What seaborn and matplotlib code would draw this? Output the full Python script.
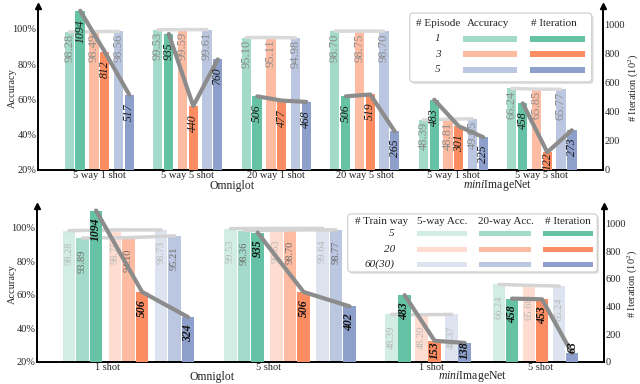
import numpy as np
import pandas as pd
import seaborn as sns
import matplotlib.pyplot as plt
from matplotlib.colors import to_rgb
from matplotlib.patches import FancyBboxPatch, Rectangle

sns.set_style('white')
plt.rcParams['font.family'] = ['Liberation Serif', 'DejaVu Serif']
plt.rcParams['mathtext.fontset'] = 'custom'
plt.rcParams['mathtext.rm'] = 'Liberation Serif'
plt.rcParams['mathtext.it'] = 'Liberation Serif:italic'

# ===================== data: top panel (number of episodes) =====================
top_groups = ['5 way 1 shot', '5 way 5 shot', '20 way 1 shot', '20 way 5 shot',
              '5 way 1 shot', '5 way 5 shot']
episodes = ['1', '3', '5']
top_acc_1 = [98.28, 99.53, 95.10, 98.70, 48.39, 66.24]
top_acc_3 = [98.49, 99.59, 95.11, 98.75, 48.81, 65.85]
top_acc_5 = [98.56, 99.61, 94.98, 98.70, 49.05, 65.77]
top_iter_1 = [1094, 935, 506, 506, 483, 458]
top_iter_3 = [812, 440, 477, 519, 301, 122]
top_iter_5 = [517, 760, 468, 265, 225, 273]

# ===================== data: bottom panel (number of train ways) ================
bot_groups = ['1 shot', '5 shot', '1 shot', '5 shot']
train_ways = ['5', '20', '60(30)']
bot_acc5_tw5 = [98.28, 99.53, 48.39, 66.24]
bot_acc5_tw20 = [98.75, 99.63, 48.20, 65.68]
bot_acc5_tw60 = [98.73, 99.64, 48.37, 65.24]
bot_acc20_tw5 = [93.89, 98.36, np.nan, np.nan]
bot_acc20_tw20 = [94.10, 98.70, np.nan, np.nan]
bot_acc20_tw60 = [95.21, 98.77, np.nan, np.nan]
bot_iter_tw5 = [1094, 935, 483, 458]
bot_iter_tw20 = [506, 506, 153, 453]
bot_iter_tw60 = [324, 402, 138, 63]

# ===================== layout =====================
base = ['#66c2a5', '#fc8d62', '#8da0cb']


def tint(c, a):
    r = np.array(to_rgb(c))
    return tuple(1 - a * (1 - r))


TOP_PAIR, TOP_HALF, TOP_BW = 0.277, 0.062, 0.107
BOT_CENTERS = [0.0, 1.0, 1.855, 2.52]
BOT_TICKS = [-0.133, 0.867, 1.876, 2.548]
BOT_OMNI_PITCH, BOT_SLOT = 0.285, 0.0836
BOT_MINI_PITCH, BOT_MINI_SLOT = 0.186, 0.0805
BOT_BW = 0.0774

fig = plt.figure(figsize=(6.4, 3.84), dpi=100)
ax_t = fig.add_axes([0.0594, 0.5573, 0.8828, 0.4271])
ax_b = fig.add_axes([0.0578, 0.0573, 0.886, 0.4063])
ax_t2 = ax_t.twinx()
ax_b2 = ax_b.twinx()


def bars(ax, df, palette, bw):
    nw = np.diff(np.unique(df['x'])).min()
    sns.barplot(data=df, x='x', y='y', hue='s', palette=palette, native_scale=True,
                dodge=False, width=bw / nw, errorbar=None, saturation=1,
                linewidth=0, legend=False, ax=ax)


def joins(ax, df, color, lw, z):
    sns.lineplot(data=df, x='x', y='y', units='g', estimator=None, color=color,
                 lw=lw, legend=False, ax=ax, zorder=z)


def labels(ax, df, fmt, size, color, off, floor=0, style='normal', weight='normal'):
    for r in df.itertuples():
        ax.annotate(fmt(r.y), (r.x, max(r.y, floor)), xytext=(0, -off),
                    textcoords='offset points', rotation=90, ha='center', va='top',
                    fontsize=size, color=color, style=style, weight=weight, zorder=6)


# ---------- top panel ----------
top_acc = [top_acc_1, top_acc_3, top_acc_5]
top_iter = [top_iter_1, top_iter_3, top_iter_5]
rows_a, rows_i = [], []
for e, ep in enumerate(episodes):
    for g in range(len(top_groups)):
        rows_a.append(dict(x=g + (e - 1) * TOP_PAIR - TOP_HALF, y=top_acc[e][g], s=ep, g=g))
        rows_i.append(dict(x=g + (e - 1) * TOP_PAIR + TOP_HALF, y=top_iter[e][g], s=ep, g=g))
df_ta = pd.DataFrame(rows_a)
df_ti = pd.DataFrame(rows_i)

bars(ax_t, df_ta, {ep: tint(c, 0.6) for ep, c in zip(episodes, base)}, TOP_BW)
joins(ax_t, df_ta, '#d9d9d9', 2.5, 3)
labels(ax_t, df_ta, lambda v: f'{v:.2f}', 9, '#8c8c8c', 1.5)
bars(ax_t2, df_ti, dict(zip(episodes, base)), TOP_BW)
joins(ax_t2, df_ti, '#8c8c8c', 3, 4)
labels(ax_t2, df_ti, lambda v: f'{int(v)}', 8.5, '#1a1a1a', 6, floor=175, style='italic')

# ---------- bottom panel ----------
acc5 = [bot_acc5_tw5, bot_acc5_tw20, bot_acc5_tw60]
acc20 = [bot_acc20_tw5, bot_acc20_tw20, bot_acc20_tw60]
iters = [bot_iter_tw5, bot_iter_tw20, bot_iter_tw60]
rows_a, rows_i = [], []
for t, tw in enumerate(train_ways):
    for g, c in enumerate(BOT_CENTERS):
        if np.isnan(acc20[t][g]):
            p0 = c + (t - 1) * BOT_MINI_PITCH - 0.5 * BOT_MINI_SLOT
            rows_a.append(dict(x=p0, y=acc5[t][g], s='5w' + tw, g=g * 2))
            rows_i.append(dict(x=p0 + BOT_MINI_SLOT, y=iters[t][g], s=tw, g=g))
        else:
            p0 = c + (t - 1) * BOT_OMNI_PITCH - BOT_SLOT
            rows_a.append(dict(x=p0, y=acc5[t][g], s='5w' + tw, g=g * 2))
            rows_a.append(dict(x=p0 + BOT_SLOT, y=acc20[t][g], s='20w' + tw, g=g * 2 + 1))
            rows_i.append(dict(x=p0 + 2 * BOT_SLOT, y=iters[t][g], s=tw, g=g))
df_ba = pd.DataFrame(rows_a)
df_bi = pd.DataFrame(rows_i)

pal_b = {}
for tw, c in zip(train_ways, base):
    pal_b['5w' + tw] = tint(c, 0.3)
    pal_b['20w' + tw] = tint(c, 0.6)
bars(ax_b, df_ba, pal_b, BOT_BW)
joins(ax_b, df_ba, '#d4d4d4', 2.5, 3)
five = df_ba[df_ba['s'].str.startswith('5w')]
twenty = df_ba[df_ba['s'].str.startswith('20w')]
labels(ax_b, five, lambda v: f'{v:.2f}', 7.5, '#b8b8b8', 8)
labels(ax_b, twenty, lambda v: f'{v:.2f}', 7.5, '#6a6a6a', 8)
bars(ax_b2, df_bi, dict(zip(train_ways, base)), BOT_BW)
joins(ax_b2, df_bi, '#8c8c8c', 3, 4)
labels(ax_b2, df_bi, lambda v: f'{int(v)}', 8.5, '#111111', 5, floor=200,
       style='italic', weight='bold')


# ---------- axes styling ----------
def style(ax, ax2, ticks, ticklabels, xlim, lab_l, lab_r):
    for a in (ax, ax2):
        a.set_xlim(*xlim)
        a.set_xlabel('')
        a.tick_params(length=0, labelsize=7.5, pad=1)
        for sp in a.spines.values():
            sp.set_color('black')
            sp.set_linewidth(1.4)
    ax.set_ylim(20, 113)
    ax2.set_ylim(0, 1127)
    ax.set_xticks(ticks, ticklabels)
    ax.set_yticks([20, 40, 60, 80, 100], ['20%', '40%', '60%', '80%', '100%'])
    ax2.set_yticks([0, 200, 400, 600, 800, 1000])
    ax.set_ylabel('Accuracy', fontsize=7.5)
    ax2.set_ylabel(r'# Iteration (10$^2$)', fontsize=7.5)
    ax.yaxis.set_label_coords(lab_l, 0.5)
    ax2.yaxis.set_label_coords(lab_r, 0.5)
    ax.spines['top'].set_visible(False)
    ax.spines['right'].set_visible(False)
    for sp in ('top', 'left', 'bottom'):
        ax2.spines[sp].set_visible(False)
    ax.plot([0], [1], marker='^', color='k', ms=4.5, transform=ax.transAxes, clip_on=False)
    ax2.plot([1], [1], marker='^', color='k', ms=4.5, transform=ax2.transAxes, clip_on=False)


style(ax_t, ax_t2, range(len(top_groups)), top_groups, (-0.692, 5.692), -0.037, 1.040)
style(ax_b, ax_b2, BOT_TICKS, bot_groups, (-0.567, 2.944), -0.035, 1.038)

ax_t.text(1.5, -0.097, 'Omniglot', transform=ax_t.get_xaxis_transform(),
          ha='center', va='center', fontsize=8.5)
ax_t.text(4.5, -0.097, r'$\mathit{mini}$ImageNet', transform=ax_t.get_xaxis_transform(),
          ha='center', va='center', fontsize=8.5)
ax_b.text(0.52, -0.093, 'Omniglot', transform=ax_b.get_xaxis_transform(),
          ha='center', va='center', fontsize=8.5)
ax_b.text(2.13, -0.093, r'$\mathit{mini}$ImageNet', transform=ax_b.get_xaxis_transform(),
          ha='center', va='center', fontsize=8.5)


# ---------- table-like legends ----------
def table_legend(ax, box, head_y, heads, row_x, row_y, row_labels, cols, patch_h):
    x0, y0, x1, y1 = box
    bbox = ax.get_window_extent()
    asp = bbox.width / bbox.height
    kw = dict(boxstyle='round,pad=0,rounding_size=0.006', mutation_aspect=asp,
              transform=ax.transAxes, clip_on=False)
    ax.add_patch(FancyBboxPatch((x0 + 0.003, y0 - 0.012), x1 - x0, y1 - y0,
                                fc='#c8c8c8', ec='none', alpha=0.6, zorder=9, **kw))
    ax.add_patch(FancyBboxPatch((x0, y0), x1 - x0, y1 - y0, fc='white', ec='#cccccc',
                                lw=0.8, zorder=10, **kw))
    for hx, ht in heads:
        ax.text(hx, head_y, ht, transform=ax.transAxes, ha='center', va='center',
                fontsize=8, zorder=11)
    for ry, rl in zip(row_y, row_labels):
        ax.text(row_x, ry, rl, transform=ax.transAxes, ha='right', va='center',
                fontsize=8, style='italic', zorder=11)
    for cx, cw, colors in cols:
        for ry, col in zip(row_y, colors):
            ax.add_patch(Rectangle((cx, ry - patch_h / 2), cw, patch_h, fc=col, ec='none',
                                   transform=ax.transAxes, zorder=11, clip_on=False))


table_legend(ax_t2, (0.658, 0.537, 0.98, 0.957), 0.896,
             [(0.708, '# Episode'), (0.796, 'Accuracy'), (0.913, '# Iteration')],
             0.712, [0.80, 0.705, 0.612], episodes,
             [(0.752, 0.0956, [tint(c, 0.6) for c in base]),
              (0.871, 0.097, base)], 0.036)
table_legend(ax_b2, (0.548, 0.577, 0.988, 0.949), 0.899,
             [(0.607, '# Train way'), (0.714, '5-way Acc.'), (0.827, '20-way Acc.'),
              (0.936, '# Iteration')],
             0.631, [0.821, 0.724, 0.628], train_ways,
             [(0.670, 0.088, [tint(c, 0.3) for c in base]),
              (0.780, 0.092, [tint(c, 0.6) for c in base]),
              (0.892, 0.088, base)], 0.032)

fig.savefig('out.png', dpi=100)
